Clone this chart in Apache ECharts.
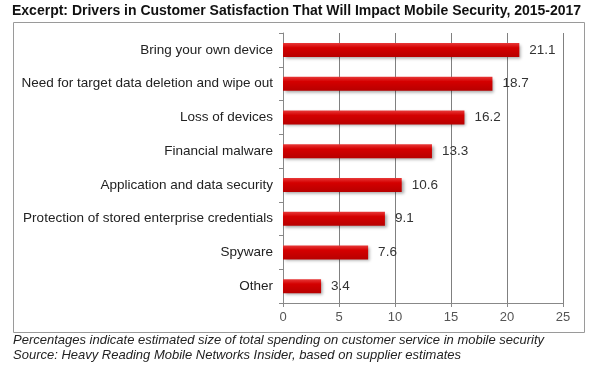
<!DOCTYPE html>
<html><head><meta charset="utf-8">
<script src="https://cdn.jsdelivr.net/npm/echarts@6/dist/echarts.min.js"></script>
<style>html,body{margin:0;padding:0;background:#fff}#c{width:600px;height:370px}</style>
</head><body><div id="c"></div>
<script>
var categories = ["Bring your own device","Need for target data deletion and wipe out","Loss of devices","Financial malware","Application and data security","Protection of stored enterprise credentials","Spyware","Other"];
var values = [21.1, 18.7, 16.2, 13.3, 10.6, 9.1, 7.6, 3.4];
var titleText = "Excerpt: Drivers in Customer Satisfaction That Will Impact Mobile Security, 2015-2017";
var noteLines = ["Percentages indicate estimated size of total spending on customer service in mobile security","Source: Heavy Reading Mobile Networks Insider, based on supplier estimates"];

var chart = echarts.init(document.getElementById('c'), null, {renderer:'canvas'});
var font = '"Liberation Sans", Arial, sans-serif';
chart.setOption({
  animation:false,
  textStyle:{fontFamily:font},
  graphic:[
    {type:'rect', shape:{x:13.5,y:22.5,width:571,height:310}, style:{fill:'none',stroke:'#9a9a9a',lineWidth:1}, z:-1},
    {type:'text', left:12, top:4, style:{text:titleText, font:'bold 14px '+font, fill:'#111'}},
    {type:'text', left:13, top:333, style:{text:noteLines.join('\n'), font:'italic 13px '+font, fill:'#222', lineHeight:15}}
  ],
  grid:{left:283, right:37, top:33, bottom:67, containLabel:false},
  xAxis:{type:'value', min:0, max:25, interval:5,
    axisLine:{show:true, lineStyle:{color:'#888'}},
    axisTick:{show:true, length:4, lineStyle:{color:'#888'}},
    axisLabel:{color:'#555', fontSize:13, margin:8, fontFamily:font},
    splitLine:{show:true, lineStyle:{color:'#808080', width:1}}
  },
  yAxis:{type:'category', data:categories, inverse:true,
    axisLine:{show:true, lineStyle:{color:'#888'}},
    axisTick:{show:true, length:4, lineStyle:{color:'#888'}},
    axisLabel:{color:'#222', fontSize:13.5, margin:10, fontFamily:font}
  },
  series:[{type:'bar', data:values, barWidth:14,
    itemStyle:{
      color:new echarts.graphic.LinearGradient(0,0,0,1,[{offset:0,color:'#e83a3a'},{offset:0.35,color:'#d40000'},{offset:1,color:'#b80000'}]),
      shadowColor:'rgba(0,0,0,0.35)', shadowBlur:3, shadowOffsetX:2, shadowOffsetY:2
    },
    label:{show:true, position:'right', distance:10, color:'#333', fontSize:13.5, fontFamily:font}
  }]
});
</script></body></html>
